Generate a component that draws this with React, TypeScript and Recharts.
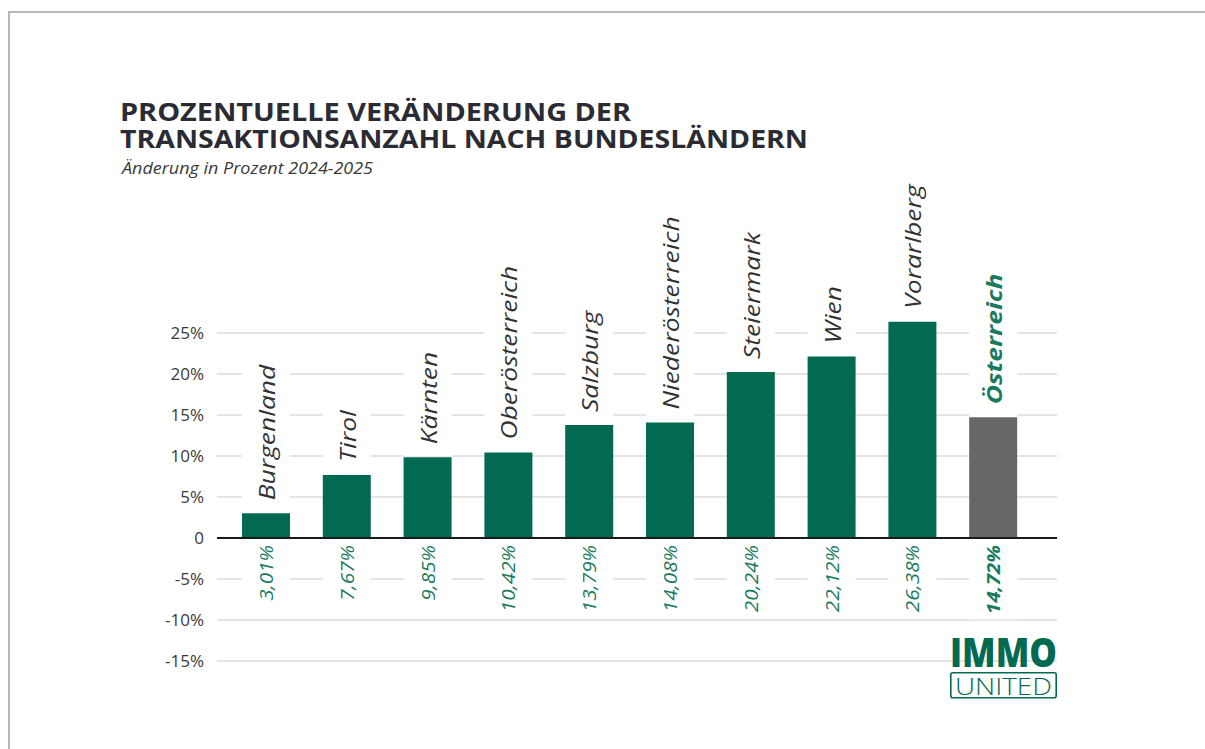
import React from 'react';
import { BarChart, Bar, XAxis, YAxis, CartesianGrid, ReferenceLine, Cell, LabelList } from 'recharts';

const categories = ['Burgenland', 'Tirol', 'Kärnten', 'Oberösterreich', 'Salzburg', 'Niederösterreich', 'Steiermark', 'Wien', 'Vorarlberg', 'Österreich'];
const values = [3.01, 7.67, 9.85, 10.42, 13.79, 14.08, 20.24, 22.12, 26.38, 14.72];
const valueLabels = ['3,01%', '7,67%', '9,85%', '10,42%', '13,79%', '14,08%', '20,24%', '22,12%', '26,38%', '14,72%'];
const yTicks = [-15, -10, -5, 0, 5, 10, 15, 20, 25];
const gridTicks = [-15, -10, -5, 5, 10, 15, 20, 25];
const totalIndex = 9;

const GREEN = '#036a52';
const GRAY = '#676767';
const LABEL_GREEN = '#197a5d';
const FONT = '"Open Sans", Lato, sans-serif';

const data = categories.map((name, i) => ({ name, value: values[i] }));

let ctx: CanvasRenderingContext2D | null = null;
function measure(text: string, font: string): number {
  if (!ctx) ctx = document.createElement('canvas').getContext('2d');
  if (!ctx) return text.length * 11;
  ctx.font = font;
  return ctx.measureText(text).width;
}

function box(props: any) {
  const vb = props.viewBox && props.viewBox.width !== undefined ? props.viewBox : props;
  return { x: Number(vb.x), y: Number(vb.y), width: Number(vb.width), height: Number(vb.height) };
}

const CAT_STRETCH = 1.2;
const VAL_STRETCH = 1.15;

const CatLabel = (props: any) => {
  const { x, y, width, height } = box(props);
  const index = props.index as number;
  const isTotal = index === totalIndex;
  const cx = x + width / 2;
  const top = Math.min(y, y + height);
  const fs = 22;
  const weight = isTotal ? 'bold' : 'normal';
  const text = categories[index];
  const len = measure(text, `italic ${weight} ${fs}px "Open Sans"`) * CAT_STRETCH;
  const base = top - 13;
  const boxTop = base - len - 6;
  return (
    <g>
      <rect x={x} y={boxTop} width={width} height={top - 1 - boxTop} fill="#ffffff" />
      <text
        x={cx}
        y={base}
        transform={`rotate(-90 ${cx} ${base})`}
        textAnchor="start"
        dominantBaseline="central"
        fontFamily={FONT}
        fontStyle="italic"
        fontWeight={weight}
        fontSize={fs}
        textLength={len}
        lengthAdjust="spacingAndGlyphs"
        fill={isTotal ? LABEL_GREEN : '#333333'}
      >
        {text}
      </text>
    </g>
  );
};

const ValLabel = (props: any) => {
  const { x, y, width, height } = box(props);
  const index = props.index as number;
  const isTotal = index === totalIndex;
  const cx = x + width / 2;
  const zero = Math.max(y, y + height);
  const fs = 18;
  const weight = isTotal ? 'bold' : 'normal';
  const text = valueLabels[index];
  const len = measure(text, `italic ${weight} ${fs}px "Open Sans"`) * VAL_STRETCH;
  const anchor = zero + 7;
  return (
    <g>
      <rect x={x} y={zero + 2} width={width} height={len + 10} fill="#ffffff" />
      <text
        x={cx}
        y={anchor}
        transform={`rotate(-90 ${cx} ${anchor})`}
        textAnchor="end"
        dominantBaseline="central"
        fontFamily={FONT}
        fontStyle="italic"
        fontWeight={weight}
        fontSize={fs}
        textLength={len}
        lengthAdjust="spacingAndGlyphs"
        fill={LABEL_GREEN}
      >
        {text}
      </text>
    </g>
  );
};

export default function App() {
  return (
    <div style={{ position: 'fixed', left: 0, top: 0, width: 1205, height: 749, background: '#ffffff', overflow: 'hidden' }}>
      <div style={{ position: 'absolute', left: 0, top: 0 }}>
        <BarChart width={1205} height={749} data={data} margin={{ top: 292, right: 148, bottom: 88, left: 0 }}>
          <CartesianGrid vertical={false} horizontalValues={gridTicks} stroke="#c9c9c9" strokeWidth={1} />
          <XAxis dataKey="name" hide padding={{ left: 9, right: 23 }} />
          <YAxis
            width={217}
            domain={[-15, 30]}
            ticks={yTicks}
            allowDataOverflow
            axisLine={false}
            tickLine={false}
            tickMargin={7}
            tick={{ fontSize: 17, fill: '#3a3a3a', fontFamily: FONT }}
            tickFormatter={(v: number) => (v === 0 ? '0' : `${v}%`)}
          />
          <Bar dataKey="value" barSize={48} isAnimationActive={false}>
            {data.map((d, i) => (
              <Cell key={d.name} fill={i === totalIndex ? GRAY : GREEN} />
            ))}
            <LabelList dataKey="value" content={CatLabel} />
            <LabelList dataKey="value" content={ValLabel} />
          </Bar>
          <ReferenceLine y={0} stroke="#1a1a1a" strokeWidth={2} />
        </BarChart>
      </div>
      <svg width={1205} height={749} style={{ position: 'absolute', left: 0, top: 0, pointerEvents: 'none' }}>
        <line x1={8} y1={12} x2={1205} y2={12} stroke="#b8b8b8" strokeWidth={2} />
        <line x1={9} y1={11} x2={9} y2={749} stroke="#b8b8b8" strokeWidth={2} />
        <text x={120} y={121} fontFamily={FONT} fontWeight="bold" fontSize={24.5} fill="#2b2b33" textLength={511} lengthAdjust="spacingAndGlyphs">
          PROZENTUELLE VERÄNDERUNG DER
        </text>
        <text x={120} y={148} fontFamily={FONT} fontWeight="bold" fontSize={24.5} fill="#2b2b33" textLength={688} lengthAdjust="spacingAndGlyphs">
          TRANSAKTIONSANZAHL NACH BUNDESLÄNDERN
        </text>
        <text x={122} y={174} fontFamily={FONT} fontStyle="italic" fontSize={15.5} fill="#3a3a3a" textLength={251} lengthAdjust="spacingAndGlyphs">
          Änderung in Prozent 2024-2025
        </text>
        <text x={950} y={667} fontFamily={FONT} fontWeight={800} fontSize={41} fill={GREEN} textLength={107} lengthAdjust="spacingAndGlyphs">
          IMMO
        </text>
        <rect x={950.8} y={672.8} width={105.4} height={25} rx={2} fill="none" stroke={GREEN} strokeWidth={1.6} />
        <text x={955} y={694.5} fontFamily={FONT} fontWeight={300} fontSize={23} fill={GREEN} textLength={97} lengthAdjust="spacingAndGlyphs">
          UNITED
        </text>
      </svg>
    </div>
  );
}
